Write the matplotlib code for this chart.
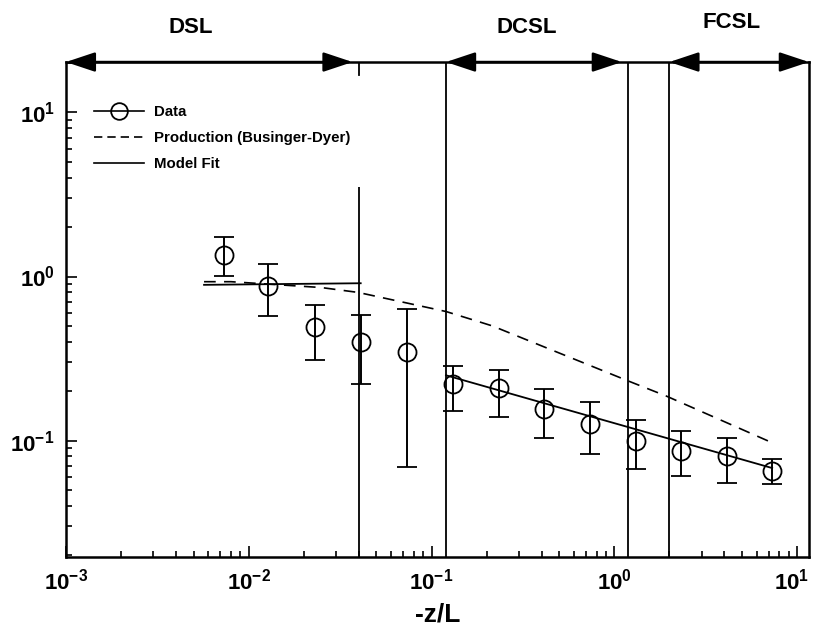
import matplotlib
matplotlib.use("Agg")
import matplotlib.pyplot as plt
from matplotlib.lines import Line2D
from matplotlib.ticker import FixedLocator, LogLocator, NullFormatter
from matplotlib.transforms import blended_transform_factory, ScaledTranslation

plt.rcParams["font.family"] = ["Liberation Sans", "DejaVu Sans"]
plt.rcParams["font.weight"] = "bold"
plt.rcParams["mathtext.fontset"] = "custom"
plt.rcParams["mathtext.rm"] = "Liberation Sans:bold"
plt.rcParams["mathtext.it"] = "Liberation Sans:bold"
plt.rcParams["mathtext.bf"] = "Liberation Sans:bold"

zl_data = [0.0073, 0.0128, 0.023, 0.041, 0.073, 0.131, 0.233, 0.415, 0.738, 1.32, 2.31, 4.11, 7.28]
phi_data = [1.36, 0.877, 0.491, 0.40, 0.348, 0.22, 0.208, 0.155, 0.127, 0.100, 0.086, 0.080, 0.065]
phi_hi = [1.73, 1.19, 0.667, 0.585, 0.63, 0.283, 0.27, 0.206, 0.172, 0.133, 0.114, 0.104, 0.077]
phi_lo = [1.01, 0.571, 0.31, 0.22, 0.069, 0.151, 0.14, 0.104, 0.083, 0.067, 0.061, 0.055, 0.054]

# produccion (Businger-Dyer)
zl_prod = [0.0057, 0.008, 0.0249, 0.0397, 0.12, 0.182, 0.215, 1.19, 1.92, 7.3]
phi_prod = [0.93, 0.93, 0.857, 0.80, 0.612, 0.53, 0.50, 0.231, 0.187, 0.097]

# ajuste del modelo (dos tramos)
zl_fit1 = [0.0057, 0.041]
phi_fit1 = [0.89, 0.91]
zl_fit2 = [0.12, 7.3]
phi_fit2 = [0.25, 0.068]

# barra larga en -z/L = 0.04
long_bar_x = 0.04
long_bar_top = 3.5

# limites entre regimenes
boundaries = [0.12, 1.19, 2.0]
regions = ["DSL", "DCSL", "FCSL"]
region_spans = [(1e-3, 0.037), (0.12, 1.1), (2.0, 11.6)]
region_label_x = [0.0048, 0.333, 4.38]
region_label_y = [1.07, 1.07, 1.08]

x_lim = (1e-3, 11.6)
y_lim = (0.0195, 20.3)
xticks = [1e-3, 1e-2, 1e-1, 1e0, 1e1]
xtick_labels = [r"$10^{-3}$", r"$10^{-2}$", r"$10^{-1}$", r"$10^{0}$", r"$10^{1}$"]
yticks = [1e-1, 1e0, 1e1]
ytick_labels = [r"$10^{-1}$", r"$10^{0}$", r"$10^{1}$"]

fig = plt.figure(figsize=(8.13, 6.33), dpi=100)
ax = fig.add_axes([0.081, 0.12, 0.914, 0.782])
ax.set_xscale("log")
ax.set_yscale("log")
ax.set_xlim(*x_lim)
ax.set_ylim(*y_lim)

ax.errorbar(zl_data, phi_data,
            yerr=[[p - l for p, l in zip(phi_data, phi_lo)],
                  [h - p for p, h in zip(phi_data, phi_hi)]],
            fmt="o", mfc="none", mec="black", ms=13, mew=1.3,
            ecolor="black", elinewidth=1.4, capsize=7, capthick=1.4, zorder=3)
ax.plot(zl_prod, phi_prod, color="black", ls=(0, (7, 5)), lw=1.2)
ax.plot(zl_fit1, phi_fit1, color="black", lw=1.3)
ax.plot(zl_fit2, phi_fit2, color="black", lw=1.3)
ax.vlines(long_bar_x, y_lim[0], long_bar_top, color="black", lw=1.3)
ax.axvline(long_bar_x, ymin=0.974, ymax=1.0, color="black", lw=1.3)

for b in boundaries:
    ax.axvline(b, color="black", lw=1.3)

# flechas de regimen y etiquetas
trans = blended_transform_factory(ax.transData, ax.transAxes)
for name, (x0, x1), xl, yl in zip(regions, region_spans, region_label_x, region_label_y):
    ax.annotate("", xy=(x1, 1.0), xytext=(x0, 1.0), xycoords=trans, textcoords=trans,
                annotation_clip=False,
                arrowprops=dict(arrowstyle="<|-|>,head_length=0.9,head_width=0.3",
                                color="black", lw=1.8, shrinkA=0, shrinkB=0,
                                mutation_scale=20))
    ax.text(xl, yl, name, transform=trans, ha="center", va="center",
            fontsize=16, fontweight="bold")

ax.xaxis.set_major_locator(FixedLocator(xticks))
ax.set_xticklabels(xtick_labels)
ax.yaxis.set_major_locator(FixedLocator(yticks))
ax.set_yticklabels(ytick_labels)
ax.xaxis.set_minor_locator(LogLocator(base=10, subs=range(2, 10)))
ax.yaxis.set_minor_locator(LogLocator(base=10, subs=range(2, 10)))
ax.xaxis.set_minor_formatter(NullFormatter())
ax.yaxis.set_minor_formatter(NullFormatter())
ax.tick_params(which="both", direction="in", top=False, right=False, width=1.2)
ax.tick_params(which="major", length=8, labelsize=16, pad=8)
ax.tick_params(which="minor", length=4)
for s in ax.spines.values():
    s.set_linewidth(1.8)

# la ultima etiqueta queda pegada al borde: alinear a la derecha
last = ax.get_xticklabels()[-1]
last.set_ha("right")
last.set_transform(last.get_transform() + ScaledTranslation(0.12, 0, fig.dpi_scale_trans))

ax.set_xlabel("-z/L", fontsize=19, fontweight="bold", labelpad=6)

h_data = Line2D([], [], color="black", lw=1.2, marker="o", mfc="none", mec="black", ms=12, mew=1.3)
h_prod = Line2D([], [], color="black", lw=1.2, ls=(0, (5, 3)))
h_fit = Line2D([], [], color="black", lw=1.2)
ax.legend([h_data, h_prod, h_fit], ["Data", "Production (Businger-Dyer)", "Model Fit"],
          loc="upper left", bbox_to_anchor=(0.02, 0.94), frameon=False,
          handlelength=3.3, handletextpad=0.7, labelspacing=0.8,
          prop={"size": 10.8, "weight": "bold"})

fig.savefig("out.png", dpi=100)
